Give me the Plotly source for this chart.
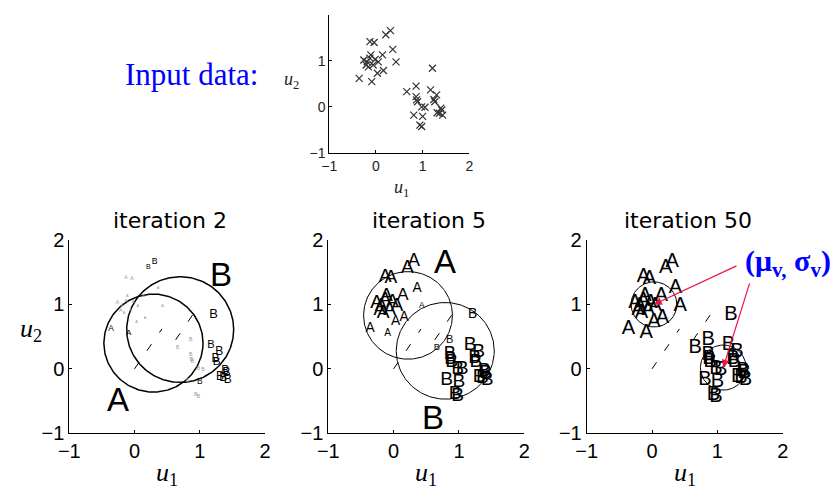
import numpy as np
import plotly.graph_objects as go

# ---------------- data ----------------
u1 = [-0.36, -0.09, -0.13, -0.04, 0.21, 0.31, 0.36, 0.43, 0.14, 0.16, 0.03,
      -0.26, -0.19, -0.13, -0.21, -0.16, -0.02, 0.05, -0.06, -0.11,
      0.66, 0.86, 0.86, 0.87, 1.21, 1.17, 1.24, 1.30, 1.26, 0.98, 1.05,
      1.00, 0.81, 0.94, 0.98, 1.39, 1.36, 1.43, 1.41, 1.31, 0.89]
u2 = [0.62, 0.55, 1.42, 1.40, 1.57, 1.66, 1.25, 0.98, 1.13, 0.79, 0.73,
      1.02, 0.98, 1.06, 0.91, 0.87, 1.03, 0.98, 0.91, 1.13,
      0.33, 0.45, 0.22, 0.15, 0.84, 0.37, 0.16, 0.26, 0.11, 0.00, -0.01,
      -0.21, -0.18, -0.40, -0.43, -0.03, -0.14, -0.18, -0.07, -0.13, 0.11]

iterations = ["iteration 2", "iteration 5", "iteration 50"]

labels_iter2 = ["A"] * 4 + ["B", "B"] + ["A"] * 14 + ["B"] * 21
labels_iter5 = ["A"] * 20 + ["B"] * 21
labels_iter50 = ["A"] * 20 + ["B"] * 21

resp_iter2 = [0.30, 0.28, 0.12, 0.12, 0.22, 0.32, 0.05, 0.05, 0.05, 0.05, 0.05,
              0.12, 0.10, 0.05, 0.12, 0.05, 0.05, 0.05, 0.05, 0.05,
              0.10, 0.12, 0.12, 0.15, 0.55, 0.45, 0.50, 0.50, 0.48, 0.12, 0.12,
              0.30, 0.10, 0.12, 0.12, 0.50, 0.50, 0.50, 0.50, 0.50, 0.12]
resp_iter5 = [0.60, 0.40, 0.90, 0.90, 0.90, 0.85, 0.60, 0.30, 0.80, 0.60, 0.60,
              0.90, 0.90, 0.90, 0.90, 0.90, 0.90, 0.90, 0.90, 0.90,
              0.35, 0.45, 0.85, 0.85, 0.60, 0.90, 0.90, 0.90, 0.90, 0.90, 0.90,
              0.90, 0.90, 0.90, 0.90, 0.90, 0.90, 0.90, 0.90, 0.90, 0.90]
resp_iter50 = [0.95] * 41

labels_all = [labels_iter2, labels_iter5, labels_iter50]
resp_all = [resp_iter2, resp_iter5, resp_iter50]

# Gaussian components (mu, sigma) per iteration
muA_x = [0.29, 0.22, 0.03]
muA_y = [0.40, 0.83, 1.00]
sigA = [0.76, 0.68, 0.35]
muB_x = [0.70, 0.79, 1.09]
muB_y = [0.61, 0.28, 0.02]
sigB = [0.82, 0.75, 0.35]

# dashed segments
seg1_x = [0.0, 0.42]
seg1_y = [0.0, 0.62]
seg2_x = [0.63, 1.0]
seg2_y = [0.45, 1.0]

tick_vals = [-1, 0, 1, 2]
tick_text = ["\u22121", "0", "1", "2"]

# ---------------- figure ----------------
W, H = 838, 493
OFF = 8  # page body margin offset

fig = go.Figure()

def px_x(p):
    return (p - OFF) / W

def px_y(p):
    return 1 - (p - OFF) / H

# top panel
fig.add_trace(go.Scatter(x=u1, y=u2, mode="markers", xaxis="x", yaxis="y",
                         marker=dict(symbol="x-thin", size=7,
                                     line=dict(color="#333333", width=1.2)),
                         showlegend=False, hoverinfo="skip"))

theta = np.linspace(0, 2 * np.pi, 240)
axis_names = [("x2", "y2"), ("x3", "y3"), ("x4", "y4")]
circle_w = [1.5, 1.0, 1.0]
for i, (xa, ya) in enumerate(axis_names):
    for mx, my, s in ((muA_x[i], muA_y[i], sigA[i]), (muB_x[i], muB_y[i], sigB[i])):
        fig.add_trace(go.Scatter(x=mx + s * np.cos(theta), y=my + s * np.sin(theta),
                                 mode="lines", xaxis=xa, yaxis=ya,
                                 line=dict(color="black", width=circle_w[i]),
                                 showlegend=False, hoverinfo="skip"))
    for sx, sy in ((seg1_x, seg1_y), (seg2_x, seg2_y)):
        fig.add_trace(go.Scatter(x=sx, y=sy, mode="lines", xaxis=xa, yaxis=ya,
                                 line=dict(color="black", width=1, dash="8px,14px"),
                                 showlegend=False, hoverinfo="skip"))
    resp = np.array(resp_all[i])
    sizes = 3 + 18 * resp
    colors = ["#999999" if r < 0.2 else "black" for r in resp]
    fig.add_trace(go.Scatter(x=u1, y=u2, mode="text", text=labels_all[i],
                             xaxis=xa, yaxis=ya,
                             textfont=dict(size=sizes.tolist(), color=colors,
                                           family="Liberation Sans"),
                             showlegend=False, hoverinfo="skip"))

axis_common = dict(range=[-1, 2], showgrid=False, zeroline=False, showline=True,
                   linecolor="black", linewidth=1, ticks="inside", ticklen=3,
                   tickcolor="black", tickvals=tick_vals, ticktext=tick_text,
                   fixedrange=True, automargin=False)

bx = [(69.3, 265.0), (328.3, 524.3), (586.7, 782.7)]
by = [px_y(433.3), px_y(240.0)]

layout = dict(width=W, height=H,
              margin=dict(l=0, r=0, t=0, b=0, pad=0, autoexpand=False),
              paper_bgcolor="white", plot_bgcolor="white", showlegend=False)
layout["xaxis"] = dict(axis_common, domain=[px_x(329.3), px_x(469.3)], anchor="y",
                       tickfont=dict(family="Liberation Sans", size=14, color="#222"))
layout["yaxis"] = dict(axis_common, domain=[px_y(152.7), px_y(15.0)], anchor="x",
                       tickfont=dict(family="Liberation Sans", size=14, color="#222"))
for i in range(3):
    n = i + 2
    layout[f"xaxis{n}"] = dict(axis_common, domain=[px_x(bx[i][0]), px_x(bx[i][1])],
                               anchor=f"y{n}",
                               tickfont=dict(family="Liberation Sans", size=20, color="black"))
    layout[f"yaxis{n}"] = dict(axis_common, domain=by, anchor=f"x{n}",
                               tickfont=dict(family="Liberation Sans", size=20, color="black"))
fig.update_layout(**layout)

ann = []
serif = "Liberation Serif"

def paper_text(x, y, text, font):
    return dict(x=px_x(x), y=px_y(y), xref="paper", yref="paper", text=text,
                showarrow=False, xanchor="center", yanchor="middle", font=font)

# titles and u1 labels
for i in range(3):
    cx = (bx[i][0] + bx[i][1]) / 2 + 3
    ann.append(paper_text(cx, 220, iterations[i],
                          dict(family="DejaVu Sans", size=22, color="black")))
    ann.append(paper_text(cx - 3, 474, "<i>u</i><sub>1</sub>",
                          dict(family=serif, size=26, color="black")))
ann.append(paper_text(31, 330, "<i>u</i><sub>2</sub>",
                      dict(family=serif, size=26, color="black")))
# top panel labels
ann.append(paper_text(291, 80, "<i>u</i><sub>2</sub>",
                      dict(family=serif, size=18, color="#222")))
ann.append(paper_text(401, 188, "<i>u</i><sub>1</sub>",
                      dict(family=serif, size=18, color="#222")))
ann.append(paper_text(191, 74, "Input data:",
                      dict(family=serif, size=31, color="#0000ff")))
# big component labels
big = [("x2", "y2", 1.33, 1.47, "B"), ("x2", "y2", -0.25, -0.48, "A"),
       ("x3", "y3", 0.79, 1.66, "A"), ("x3", "y3", 0.60, -0.76, "B")]
for xa, ya, x, y, t in big:
    ann.append(dict(x=x, y=y, xref=xa, yref=ya, text=t, showarrow=False,
                    xanchor="center", yanchor="middle",
                    font=dict(family="Liberation Sans", size=33, color="black")))
# (mu, sigma) annotation
ann.append(paper_text(788, 263, "<b>(μ<sub>v,</sub> σ<sub>v</sub>)</b>",
                      dict(family=serif, size=30, color="#0000ff")))
arrow_col = "#ee1144"
ann.append(dict(x=muA_x[2], y=muA_y[2], xref="x4", yref="y4",
                ax=1.316, ay=1.61, axref="x4", ayref="y4", text="",
                showarrow=True, arrowhead=2, arrowsize=1.3, arrowwidth=1.2,
                arrowcolor=arrow_col))
ann.append(dict(x=muB_x[2], y=muB_y[2], xref="x4", yref="y4",
                ax=1.50, ay=1.35, axref="x4", ayref="y4", text="",
                showarrow=True, arrowhead=2, arrowsize=1.3, arrowwidth=1.2,
                arrowcolor=arrow_col))
fig.update_layout(annotations=ann)

fig.write_html("out.html")
